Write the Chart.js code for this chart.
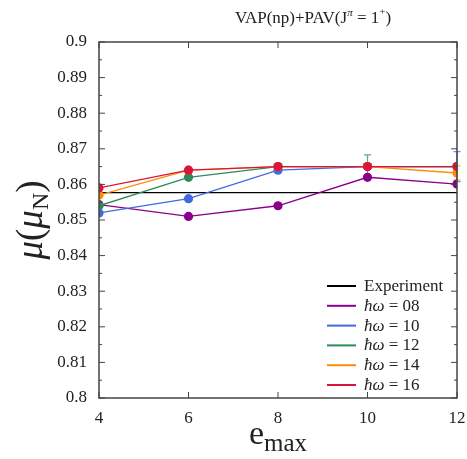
<!DOCTYPE html>
<html>
<head>
<meta charset="utf-8">
<script src="https://cdn.jsdelivr.net/npm/chart.js@4.4.1/dist/chart.umd.min.js"></script>
<style>
html, body { margin: 0; padding: 0; background: #fff; }
</style>
</head>
<body>
<canvas id="chart" width="467" height="459"></canvas>
<script>
// data
const emax = [4, 6, 8, 10, 12];
const experiment = 0.8577;

const hw08 = [0.8543, 0.8510, 0.8540, 0.8620, 0.8601];
const hw10 = [0.8520, 0.8560, 0.8640, 0.8650, 0.8650];
const hw12 = [0.8540, 0.8620, 0.8650, 0.8650, 0.8650];
const hw14 = [0.8570, 0.8640, 0.8650, 0.8650, 0.8632];
const hw16 = [0.8590, 0.8640, 0.8650, 0.8650, 0.8650];

// error bars (0 = none)
const err10 = [0, 0, 0, 0, 0.0042];
const err12 = [0, 0, 0, 0.0033, 0];
const err14 = [0, 0, 0, 0, 0.0020];

const seriesLabels = ["08", "10", "12", "14", "16"];
const seriesColors = ["#8b008b", "#4169e1", "#2e8b57", "#ff8c00", "#dc143c"];

const yTickValues = [0.80, 0.81, 0.82, 0.83, 0.84, 0.85, 0.86, 0.87, 0.88, 0.89, 0.90];
const yTickLabels = ["0.8", "0.81", "0.82", "0.83", "0.84", "0.85", "0.86", "0.87", "0.88", "0.89", "0.9"];
const xTickValues = [4, 6, 8, 10, 12];

const SERIF = "'Liberation Serif', 'DejaVu Serif', serif";

function pts(ys) {
    return emax.map((x, i) => ({ x: x, y: ys[i] }));
}

function makeSeries(ys, errs, idx) {
    return {
        label: "ħω = " + seriesLabels[idx],
        data: pts(ys),
        errors: errs,
        borderColor: seriesColors[idx],
        backgroundColor: seriesColors[idx],
        borderWidth: 1.3,
        pointRadius: 4.6,
        pointHoverRadius: 4.6,
        pointBorderWidth: 0,
        order: 4 - idx
    };
}

// draw a row of text pieces; each piece has its own font and vertical shift
function drawRuns(ctx, runs, x, y, align) {
    let total = 0;
    runs.forEach(r => { ctx.font = r.font; total += ctx.measureText(r.text).width; });
    let cx = align === "center" ? x - total / 2 : x;
    ctx.textAlign = "left";
    ctx.textBaseline = "alphabetic";
    runs.forEach(r => {
        ctx.font = r.font;
        ctx.fillText(r.text, cx, y + (r.dy || 0));
        cx += ctx.measureText(r.text).width;
    });
}

const errorBars = {
    id: "errorBars",
    beforeDatasetsDraw(chart) {
        const ctx = chart.ctx;
        const xs = chart.scales.x, ys = chart.scales.y;
        chart.data.datasets.forEach(ds => {
            if (!ds.errors) return;
            ds.data.forEach((p, i) => {
                const e = ds.errors[i];
                if (!e) return;
                const px = xs.getPixelForValue(p.x);
                const top = ys.getPixelForValue(p.y + e);
                const bot = ys.getPixelForValue(p.y - e);
                ctx.save();
                ctx.globalAlpha = 0.75;
                ctx.strokeStyle = ds.borderColor;
                ctx.lineWidth = 1.3;
                ctx.beginPath();
                ctx.moveTo(px, top); ctx.lineTo(px, bot);
                ctx.moveTo(px - 3.5, top); ctx.lineTo(px + 3.5, top);
                ctx.moveTo(px - 3.5, bot); ctx.lineTo(px + 3.5, bot);
                ctx.stroke();
                ctx.restore();
            });
        });
    }
};

const frameAndText = {
    id: "frameAndText",
    afterDraw(chart) {
        const ctx = chart.ctx;
        const a = chart.chartArea;
        const xs = chart.scales.x, ys = chart.scales.y;
        ctx.save();

        // frame
        ctx.strokeStyle = "#444";
        ctx.lineWidth = 1.5;
        ctx.strokeRect(a.left, a.top, a.right - a.left, a.bottom - a.top);

        // inward ticks
        ctx.lineWidth = 1;
        ctx.beginPath();
        xTickValues.forEach(v => {
            const px = xs.getPixelForValue(v);
            ctx.moveTo(px, a.bottom); ctx.lineTo(px, a.bottom - 6);
            ctx.moveTo(px, a.top); ctx.lineTo(px, a.top + 6);
        });
        yTickValues.forEach((v, i) => {
            const py = ys.getPixelForValue(v);
            ctx.moveTo(a.left, py); ctx.lineTo(a.left + 6, py);
            ctx.moveTo(a.right, py); ctx.lineTo(a.right - 6, py);
            if (i < yTickValues.length - 1) {
                const pm = ys.getPixelForValue(v + 0.005);
                ctx.moveTo(a.left, pm); ctx.lineTo(a.left + 3, pm);
                ctx.moveTo(a.right, pm); ctx.lineTo(a.right - 3, pm);
            }
        });
        ctx.stroke();

        ctx.fillStyle = "#222";

        // title
        drawRuns(ctx, [
            { text: "VAP(np)+PAV(J", font: "17px " + SERIF },
            { text: "π", font: "italic 11px " + SERIF, dy: -7 },
            { text: " = 1", font: "17px " + SERIF },
            { text: "+", font: "11px " + SERIF, dy: -8 },
            { text: ")", font: "17px " + SERIF }
        ], 313, 23, "center");

        // x title
        const cx = (a.left + a.right) / 2;
        drawRuns(ctx, [
            { text: "e", font: "34px " + SERIF },
            { text: "max", font: "25px " + SERIF, dy: 7 }
        ], cx, 444, "center");

        // y title
        ctx.save();
        ctx.translate(42, (a.top + a.bottom) / 2);
        ctx.rotate(-Math.PI / 2);
        drawRuns(ctx, [
            { text: "μ", font: "italic 37px " + SERIF },
            { text: "(", font: "37px " + SERIF },
            { text: "μ", font: "italic 37px " + SERIF },
            { text: "N", font: "24px " + SERIF, dy: 6 },
            { text: ")", font: "37px " + SERIF }
        ], 0, 0, "center");
        ctx.restore();

        // legend
        const lx = 327, ly = 286, step = 19.8;
        const entries = [{ color: "#000", runs: [{ text: "Experiment", font: "17px " + SERIF }] }];
        seriesLabels.forEach((s, i) => {
            entries.push({
                color: seriesColors[i],
                runs: [
                    { text: "ħω", font: "italic 17px " + SERIF },
                    { text: " = " + s, font: "17px " + SERIF }
                ]
            });
        });
        entries.forEach((en, i) => {
            const y = ly + i * step;
            ctx.strokeStyle = en.color;
            ctx.lineWidth = 2;
            ctx.beginPath();
            ctx.moveTo(lx, y); ctx.lineTo(lx + 29, y);
            ctx.stroke();
            ctx.fillStyle = "#222";
            drawRuns(ctx, en.runs, lx + 37, y + 5, "left");
        });

        ctx.restore();
    }
};

new Chart(document.getElementById("chart"), {
    type: "line",
    data: {
        datasets: [
            {
                label: "Experiment",
                data: [{ x: emax[0], y: experiment }, { x: emax[emax.length - 1], y: experiment }],
                borderColor: "#000",
                borderWidth: 1.3,
                pointRadius: 0,
                order: 5
            },
            makeSeries(hw08, null, 0),
            makeSeries(hw10, err10, 1),
            makeSeries(hw12, err12, 2),
            makeSeries(hw14, err14, 3),
            makeSeries(hw16, null, 4)
        ]
    },
    options: {
        responsive: false,
        animation: false,
        layout: { padding: { top: 42, right: 10, left: 0, bottom: 0 } },
        plugins: {
            legend: { display: false },
            tooltip: { enabled: false }
        },
        scales: {
            x: {
                type: "linear",
                min: 4,
                max: 12,
                grid: { display: false, drawTicks: false },
                border: { display: false },
                afterBuildTicks: s => { s.ticks = xTickValues.map(v => ({ value: v })); },
                afterFit: s => { s.height = 61; s.paddingRight = 0; s.paddingLeft = 0; },
                ticks: {
                    padding: 10,
                    color: "#222",
                    font: { family: SERIF, size: 17 },
                    maxRotation: 0
                }
            },
            y: {
                type: "linear",
                min: 0.8,
                max: 0.9,
                grid: { display: false, drawTicks: false },
                border: { display: false },
                afterBuildTicks: s => { s.ticks = yTickValues.map(v => ({ value: v })); },
                afterFit: s => { s.width = 99; },
                ticks: {
                    padding: 12,
                    color: "#222",
                    font: { family: SERIF, size: 17 },
                    callback: (v, i) => yTickLabels[i]
                }
            }
        }
    },
    plugins: [errorBars, frameAndText]
});
</script>
</body>
</html>
